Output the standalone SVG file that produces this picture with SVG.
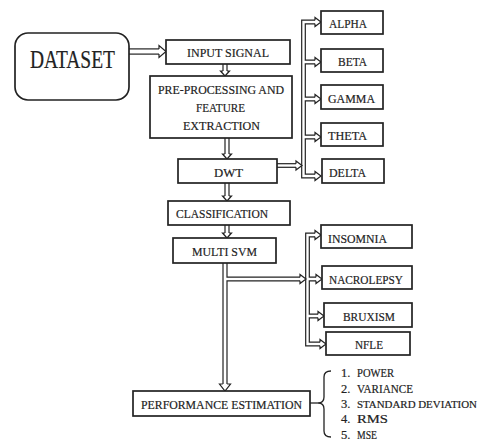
<svg xmlns="http://www.w3.org/2000/svg" width="483" height="441" viewBox="0 0 483 441">
  <style>
    text { font-family: "Liberation Serif", "Times New Roman", serif; fill: #222; stroke: #222; stroke-width: 0.2; }
    .box { fill: #fff; stroke: #222; stroke-width: 1.7; }
    .lbl { font-size: 13px; }
    .lst { font-size: 12.5px; }
    .lst-long { font-size: 11px; }
    .o1 { fill: none; stroke: #222; stroke-width: 6.4; }
    .i1 { fill: none; stroke: #fff; stroke-width: 4; }
    .o2 { fill: none; stroke: #222; stroke-width: 5.2; }
    .i2 { fill: none; stroke: #fff; stroke-width: 2.8; }
    .o3 { fill: none; stroke: #222; stroke-width: 4.8; }
    .i3 { fill: none; stroke: #fff; stroke-width: 2.4; }
    .head { fill: #fff; stroke: #222; stroke-width: 1.2; stroke-linejoin: miter; }
    .thin { fill: none; stroke: #222; stroke-width: 1.3; }
  </style>

  <!-- connectors: dark outer strokes first, white cores on top, heads last -->
  <g id="connectors">
    <!-- outer strokes -->
    <path class="o1" d="M129,51.5 H159"/>
    <path class="o2" d="M225,64 V71 M227,138 V154 M227,183 V196 M227,225 V233"/>
    <path class="o3" d="M277,165.5 H296"/>
    <path class="o3" d="M315,22 H303.5 V176 H315 M303.5,62 H315 M303.5,99 H315 M303.5,137 H315"/>
    <path class="o2" d="M225,263 V384"/>
    <path class="o3" d="M225,279 H300"/>
    <path class="o3" d="M315,235 H307.5 V344 H320 M307.5,279 H316 M307.5,316 H318"/>

    <!-- white cores -->
    <path class="i1" d="M129,51.5 H159"/>
    <path class="i2" d="M225,64 V71 M227,138 V154 M227,183 V196 M227,225 V233"/>
    <path class="i3" d="M277,165.5 H296"/>
    <path class="i3" d="M315,22 H303.5 V176 H315 M303.5,62 H315 M303.5,99 H315 M303.5,137 H315"/>
    <path class="i2" d="M225,263 V384"/>
    <path class="i3" d="M225,279 H300"/>
    <path class="i3" d="M315,235 H307.5 V344 H320 M307.5,279 H316 M307.5,316 H318"/>

    <!-- heads -->
    <path class="head" d="M159,48.9 V45.5 L166,51.5 L159,57.5 V54.1"/>
    <path class="head" d="M223,71 H220.5 L225,76 L229.5,71 H227"/>
    <path class="head" d="M225,154 H222.5 L227,159 L231.5,154 H229"/>
    <path class="head" d="M225,196 H222.5 L227,201 L231.5,196 H229"/>
    <path class="head" d="M225,233 H222.5 L227,238 L231.5,233 H229"/>
    <path class="head" d="M296,163.7 V161 L302,165.5 L296,170 V167.3"/>
    <path class="head" d="M315,20.2 V17.5 L321,22 L315,26.5 V23.8"/>
    <path class="head" d="M315,60.2 V57.5 L321,62 L315,66.5 V63.8"/>
    <path class="head" d="M315,97.2 V94.5 L321,99 L315,103.5 V100.8"/>
    <path class="head" d="M315,135.2 V132.5 L321,137 L315,141.5 V138.8"/>
    <path class="head" d="M315,174.2 V171.5 L321,176 L315,180.5 V177.8"/>
    <path class="head" d="M222.8,384 H219.5 L225,391 L230.5,384 H227.2"/>
    <path class="head" d="M300,277.2 V274.5 L306,279 L300,283.5 V280.8"/>
    <path class="head" d="M315,233.2 V230.5 L321,235 L315,239.5 V236.8"/>
    <path class="head" d="M316,277.2 V274.5 L322,279 L316,283.5 V280.8"/>
    <path class="head" d="M318,314.2 V311.5 L324,316 L318,320.5 V317.8"/>
    <path class="head" d="M320,342.2 V339.5 L326,344 L320,348.5 V345.8"/>

    <!-- brace to the metrics list -->
    <path class="thin" d="M310,403 H318"/>
    <path class="thin" d="M331,371 Q324,371 324,377 V397 Q324,403 318,403 Q324,403 324,409 V431 Q324,437 331,437"/>
  </g>

  <g id="dataset">
    <rect class="box" x="15" y="33" width="114" height="67" rx="13"/>
    <text x="30" y="68" font-size="25" textLength="85" lengthAdjust="spacingAndGlyphs">DATASET</text>
  </g>

  <g id="input-signal">
    <rect class="box" x="166" y="40" width="124" height="24"/>
    <text class="lbl" x="187" y="57" textLength="82" lengthAdjust="spacingAndGlyphs">INPUT SIGNAL</text>
  </g>

  <g id="preprocessing">
    <rect class="box" x="150" y="76" width="142" height="62"/>
    <text class="lbl" x="158" y="94" textLength="126" lengthAdjust="spacingAndGlyphs">PRE-PROCESSING AND</text>
    <text class="lbl" x="196" y="112" textLength="49" lengthAdjust="spacingAndGlyphs">FEATURE</text>
    <text class="lbl" x="183" y="130" textLength="77" lengthAdjust="spacingAndGlyphs">EXTRACTION</text>
  </g>

  <g id="dwt">
    <rect class="box" x="178" y="159" width="99" height="24"/>
    <text class="lbl" x="214" y="177" textLength="29" lengthAdjust="spacingAndGlyphs">DWT</text>
  </g>

  <g id="classification">
    <rect class="box" x="168" y="201" width="122" height="24"/>
    <text class="lbl" x="176" y="218" textLength="92" lengthAdjust="spacingAndGlyphs">CLASSIFICATION</text>
  </g>

  <g id="multi-svm">
    <rect class="box" x="173" y="238" width="103" height="25"/>
    <text class="lbl" x="192" y="256" textLength="65" lengthAdjust="spacingAndGlyphs">MULTI SVM</text>
  </g>

  <g id="alpha">
    <rect class="box" x="321" y="11" width="62" height="23"/>
    <text class="lbl" x="329" y="28" textLength="38" lengthAdjust="spacingAndGlyphs">ALPHA</text>
  </g>
  <g id="beta">
    <rect class="box" x="321" y="49" width="62" height="23"/>
    <text class="lbl" x="338" y="66" textLength="29" lengthAdjust="spacingAndGlyphs">BETA</text>
  </g>
  <g id="gamma">
    <rect class="box" x="321" y="85" width="62" height="24"/>
    <text class="lbl" x="328" y="103" textLength="47" lengthAdjust="spacingAndGlyphs">GAMMA</text>
  </g>
  <g id="theta">
    <rect class="box" x="321" y="123" width="62" height="23"/>
    <text class="lbl" x="328" y="140" textLength="39" lengthAdjust="spacingAndGlyphs">THETA</text>
  </g>
  <g id="delta">
    <rect class="box" x="322" y="159" width="62" height="24"/>
    <text class="lbl" x="329" y="177" textLength="37" lengthAdjust="spacingAndGlyphs">DELTA</text>
  </g>

  <g id="insomnia">
    <rect class="box" x="321" y="225" width="91" height="23"/>
    <text class="lbl" x="328" y="243" textLength="59" lengthAdjust="spacingAndGlyphs">INSOMNIA</text>
  </g>
  <g id="nacrolepsy">
    <rect class="box" x="322" y="266" width="90" height="23"/>
    <text class="lbl" x="329" y="284" textLength="74" lengthAdjust="spacingAndGlyphs">NACROLEPSY</text>
  </g>
  <g id="bruxism">
    <rect class="box" x="324" y="303" width="88" height="24"/>
    <text class="lbl" x="343" y="321" textLength="52" lengthAdjust="spacingAndGlyphs">BRUXISM</text>
  </g>
  <g id="nfle">
    <rect class="box" x="326" y="332" width="84" height="23"/>
    <text class="lbl" x="355" y="349" textLength="28" lengthAdjust="spacingAndGlyphs">NFLE</text>
  </g>

  <g id="performance-estimation">
    <rect class="box" x="133" y="391" width="177" height="25"/>
    <text class="lbl" x="141" y="409" textLength="161" lengthAdjust="spacingAndGlyphs">PERFORMANCE ESTIMATION</text>
  </g>

  <g id="metrics">
    <text class="lst" x="341" y="377">1.</text>
    <text class="lst" x="357" y="377" textLength="37" lengthAdjust="spacingAndGlyphs">POWER</text>
    <text class="lst" x="341" y="393">2.</text>
    <text class="lst" x="357" y="393" textLength="56" lengthAdjust="spacingAndGlyphs">VARIANCE</text>
    <text class="lst" x="341" y="408">3.</text>
    <text class="lst-long" x="357" y="408" textLength="120" lengthAdjust="spacingAndGlyphs">STANDARD DEVIATION</text>
    <text class="lst" x="341" y="423">4.</text>
    <text class="lst" x="357" y="423" textLength="31" lengthAdjust="spacingAndGlyphs">RMS</text>
    <text class="lst" x="341" y="439">5.</text>
    <text class="lst" x="357" y="439" textLength="20" lengthAdjust="spacingAndGlyphs">MSE</text>
  </g>
</svg>
